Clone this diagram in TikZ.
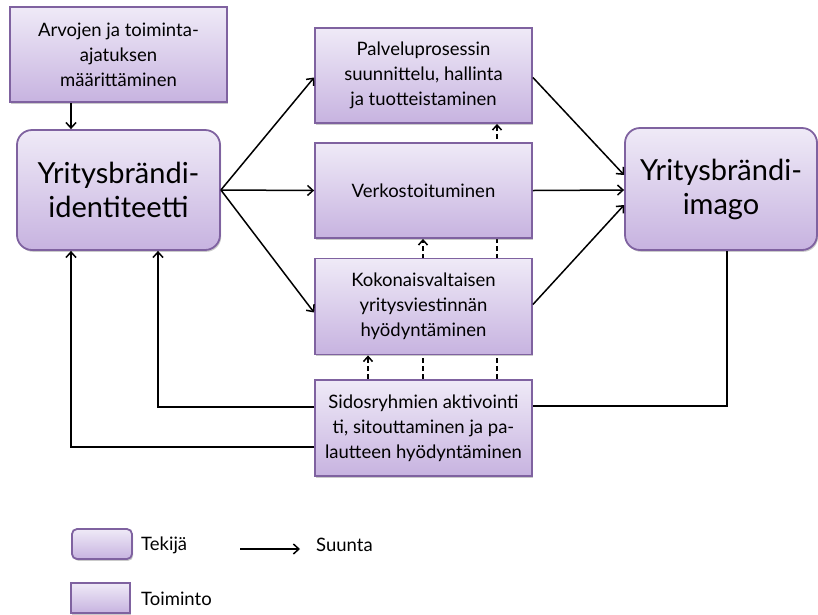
\documentclass[tikz,border=0pt]{standalone}
\usepackage{fontspec}
\setmainfont{Lato}
\usetikzlibrary{arrows.meta,shadows,backgrounds}

\definecolor{boxline}{HTML}{7F62A0}
\definecolor{boxtop}{HTML}{EFEAF7}
\definecolor{boxbottom}{HTML}{C7B3E0}

\tikzset{
  base/.style={draw=boxline, line width=1.8pt, top color=boxtop, bottom color=boxbottom,
    drop shadow={shadow xshift=1.2pt, shadow yshift=-1.8pt, opacity=0.35, fill=black!60},
    align=center, inner sep=2pt, text=black},
  actor/.style={base, rounded corners=15pt},
  action/.style={base, rounded corners=0pt},
  small/.style={font=\fontsize{18.5}{25}\selectfont},
  large/.style={font=\fontsize{29}{34}\selectfont},
  arr/.style={-{Straight Barb[length=5.5pt,width=10pt]}, line width=1.5pt},
  plain/.style={line width=1.5pt},
  dashlink/.style={dash pattern=on 5pt off 3pt, line width=1.5pt, -{Straight Barb[length=5pt,width=9pt]}},
  lbl/.style={anchor=west, inner sep=0pt, font=\fontsize{18.5}{20}\selectfont},
}

\begin{document}
\begin{tikzpicture}[x=1pt, y=-1pt]
\useasboundingbox (0,0) rectangle (818,614);

% main boxes
\node[action, small, minimum width=217pt, minimum height=95pt] (arv) at (118.5,54.5)
  {Arvojen ja toiminta-\\ajatuksen\\määrittäminen};
\node[actor, large, minimum width=203pt, minimum height=120pt] (id) at (118.5,190)
  {Yritysbrändi-\\identiteetti};
\node[action, small, minimum width=217pt, minimum height=95pt] (pal) at (423.5,75.5)
  {Palveluprosessin\\suunnittelu, hallinta\\ja tuotteistaminen};
\node[action, small, minimum width=217pt, minimum height=95pt] (ver) at (423.5,190.5)
  {Verkostoituminen};
\node[action, small, minimum width=217pt, minimum height=96pt] (kok) at (423.5,306.5)
  {Kokonaisvaltaisen\\yritysviestinnän\\hyödyntäminen};
\node[action, small, minimum width=217pt, minimum height=96pt] (sid) at (423.5,428)
  {Sidosryhmien aktivointi\\ti, sitouttaminen ja pa-\\lautteen hyödyntäminen};
\node[actor, large, minimum width=192pt, minimum height=122pt] (img) at (721,189)
  {Yritysbrändi-\\imago};

% dashed links running behind the boxes
\begin{scope}[on background layer]
  \draw[dashlink] ([xshift=-55.5pt]sid.north) -- ([xshift=-55.5pt]kok.south);
  \draw[dashlink] ([xshift=-0.5pt]sid.north) -- ([xshift=-0.5pt]ver.south);
  \draw[dashlink] ([xshift=73.5pt]sid.north) -- ([xshift=73.5pt]pal.south);
\end{scope}

% solid connectors
\draw[arr] ([xshift=-47.5pt]arv.south) -- ([xshift=-47.5pt]id.north);
\draw[arr] (id.east) -- ([yshift=-2pt]pal.west);
\draw[arr] (id.east) -- (ver.west);
\draw[arr] (id.east) -- ([yshift=-6pt]kok.west);
\draw[arr] ([yshift=-2pt]pal.east) -- ([yshift=14pt]img.west);
\draw[arr] (ver.east) -- ([yshift=-1pt]img.west);
\draw[arr] ([yshift=2pt]kok.east) -- ([yshift=-16pt]img.west);

% feedback loops
\draw[arr] ([yshift=21pt]sid.west) -| ([xshift=39.5pt]id.south);
\draw[arr] ([yshift=-19pt]sid.west) -| ([xshift=-47.5pt]id.south);
\draw[plain] ([yshift=22pt]sid.east) -| ([xshift=6pt]img.south);

% legend
\node[actor, rounded corners=5pt, minimum width=60pt, minimum height=30pt, inner sep=0pt] (lg1) at (102,544) {};
\node[lbl] (lt1) at (141,545) {Tekijä};
\coordinate (la) at (240,549);
\coordinate (lb) at (300,549);
\draw[arr] (la) -- (lb);
\node[lbl] (lt2) at (316,545) {Suunta};
\node[action, minimum width=59pt, minimum height=30pt, inner sep=0pt] (lg2) at (100.5,598) {};
\node[lbl] (lt3) at (141,599) {Toiminto};
\end{tikzpicture}
\end{document}
